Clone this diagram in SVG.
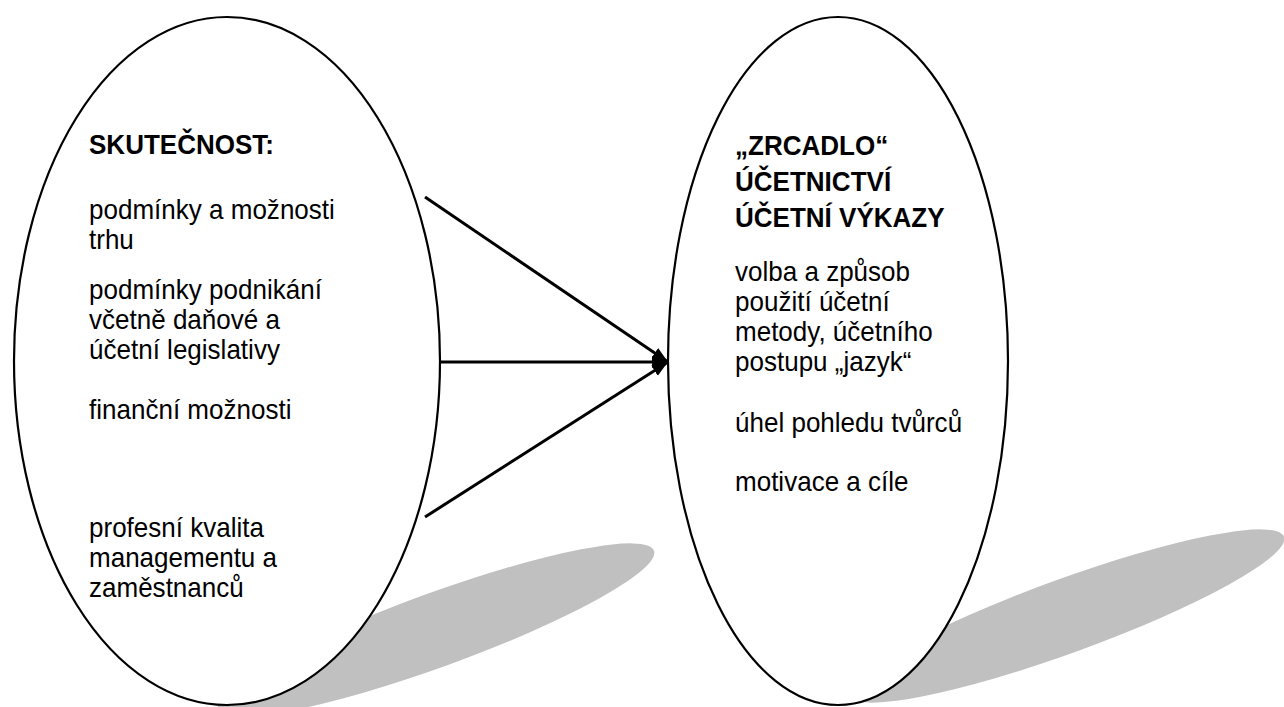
<svg xmlns="http://www.w3.org/2000/svg" width="1284" height="707" viewBox="0 0 1284 707">
<style>
.shadow{fill:#c0c0c0;stroke:none}
.node{fill:#fff;stroke:#000;stroke-width:2.2}
.conn{stroke:#000;stroke-width:3;fill:none}
text{font-family:"Liberation Sans",Arial,sans-serif;font-size:28px;fill:#000}
.b{font-weight:bold}
</style>
<defs>
<marker id="ah" markerUnits="userSpaceOnUse" markerWidth="18" markerHeight="14" refX="16" refY="6" orient="auto">
<path d="M0,0 L16,6 L0,12 Z" fill="#000"/>
</marker>
</defs>
<rect width="1284" height="707" fill="#fff"/>
<g id="shadows">
<ellipse class="shadow" cx="436" cy="630" rx="232" ry="37" transform="rotate(-20 436 630)"/>
<ellipse class="shadow" cx="1066" cy="616" rx="232" ry="37" transform="rotate(-20 1066 616)"/>
</g>
<g id="node-skutecnost">
<ellipse class="node" cx="227" cy="361" rx="213" ry="344"/>
<g transform="matrix(0.93 0 0 1 89 0)">
<text class="b" x="0" y="154">SKUTEČNOST:</text>
<text x="0" y="219">podmínky a možnosti</text>
<text x="0" y="249">trhu</text>
<text x="0" y="299">podmínky podnikání</text>
<text x="0" y="329">včetně daňové a</text>
<text x="0" y="359">účetní legislativy</text>
<text x="0" y="419">finanční možnosti</text>
<text x="0" y="537">profesní kvalita</text>
<text x="0" y="567">managementu a</text>
<text x="0" y="597">zaměstnanců</text>
</g>
</g>
<g id="node-zrcadlo">
<ellipse class="node" cx="838" cy="361" rx="170" ry="344"/>
<g transform="matrix(0.93 0 0 1 735 0)">
<text class="b" x="0" y="155">„ZRCADLO“</text>
<text class="b" x="0" y="191">ÚČETNICTVÍ</text>
<text class="b" x="0" y="227">ÚČETNÍ VÝKAZY</text>
<text x="0" y="281">volba a způsob</text>
<text x="0" y="311">použití účetní</text>
<text x="0" y="341">metody, účetního</text>
<text x="0" y="371">postupu „jazyk“</text>
<text x="0" y="432">úhel pohledu tvůrců</text>
<text x="0" y="491">motivace a cíle</text>
</g>
</g>
<g id="connectors">
<line class="conn" x1="425" y1="197" x2="668" y2="362" marker-end="url(#ah)"/>
<line class="conn" x1="441" y1="362" x2="668" y2="362" marker-end="url(#ah)"/>
<line class="conn" x1="425" y1="517" x2="668" y2="362" marker-end="url(#ah)"/>
</g>
</svg>
